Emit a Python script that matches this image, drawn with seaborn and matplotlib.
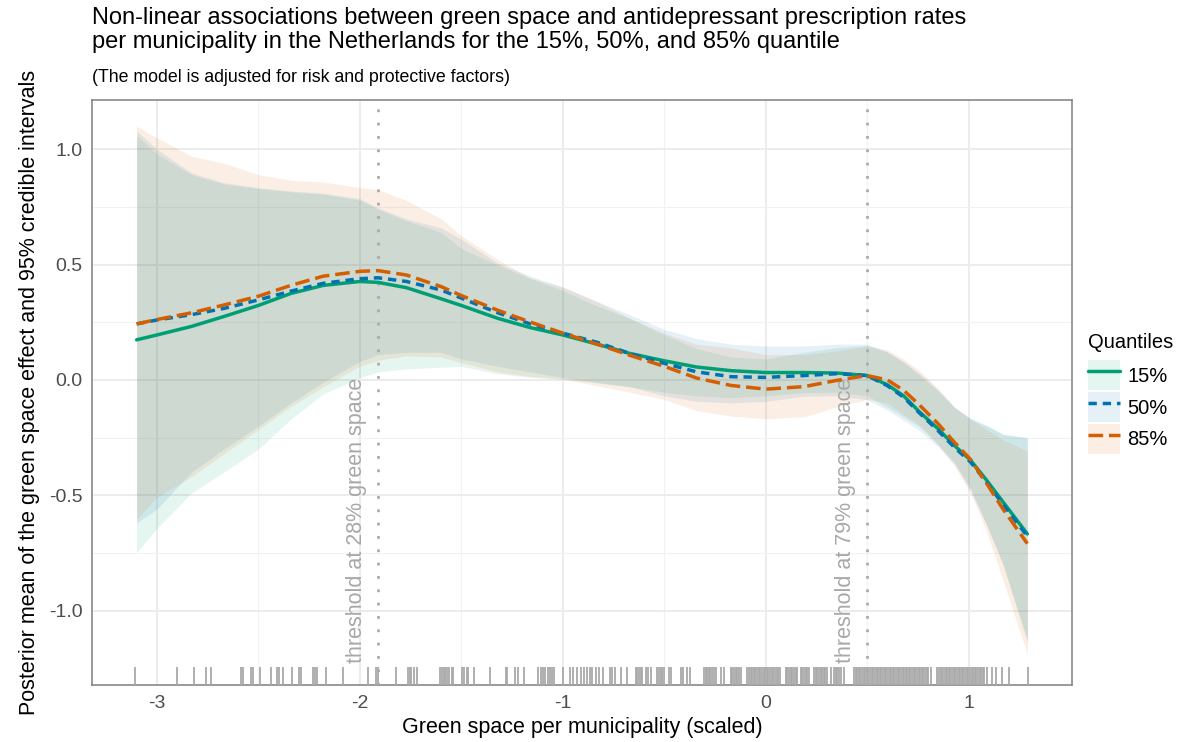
import matplotlib
matplotlib.use("Agg")
import matplotlib.pyplot as plt
from matplotlib.patches import Patch
from matplotlib.lines import Line2D
from matplotlib.legend_handler import HandlerTuple
import seaborn as sns
import pandas as pd

# ---------------------------------------------------
# Data
# ---------------------------------------------------
green_space = [-3.10, -3.00, -2.83, -2.67, -2.50, -2.34, -2.18, -2.00, -1.91, -1.77,
               -1.60, -1.50, -1.32, -1.16, -1.00, -0.83, -0.67, -0.50, -0.34, -0.17,
               0.00, 0.19, 0.35, 0.50, 0.60, 0.68, 0.76, 0.85, 0.93, 1.01,
               1.09, 1.17, 1.29]

q15_mean = [0.174, 0.195, 0.232, 0.275, 0.323, 0.375, 0.410, 0.427, 0.423, 0.400,
            0.352, 0.323, 0.267, 0.227, 0.195, 0.155, 0.115, 0.083, 0.056, 0.040,
            0.032, 0.032, 0.030, 0.019, -0.021, -0.069, -0.140, -0.212, -0.284, -0.348,
            -0.436, -0.529, -0.668]
q15_lower = [-0.748, -0.644, -0.490, -0.400, -0.300, -0.170, -0.060, 0.010, 0.035, 0.048,
             0.055, 0.059, 0.027, 0.012, 0.003, -0.013, -0.030, -0.053, -0.069, -0.077,
             -0.069, -0.055, -0.053, -0.069, -0.117, -0.160, -0.204, -0.280, -0.356, -0.470,
             -0.630, -0.800, -1.140]
q15_upper = [1.060, 0.980, 0.890, 0.850, 0.830, 0.815, 0.805, 0.780, 0.740, 0.690,
             0.640, 0.570, 0.498, 0.440, 0.387, 0.320, 0.267, 0.195, 0.136, 0.099,
             0.091, 0.120, 0.140, 0.150, 0.120, 0.075, 0.020, -0.050, -0.120, -0.170,
             -0.200, -0.235, -0.250]

q50_mean = [0.243, 0.260, 0.283, 0.310, 0.347, 0.385, 0.419, 0.439, 0.443, 0.427,
            0.390, 0.355, 0.291, 0.243, 0.203, 0.163, 0.115, 0.072, 0.035, 0.014,
            0.011, 0.019, 0.027, 0.019, -0.025, -0.075, -0.145, -0.220, -0.292, -0.356,
            -0.445, -0.540, -0.678]
q50_lower = [-0.620, -0.560, -0.400, -0.300, -0.200, -0.100, -0.010, 0.080, 0.110, 0.120,
             0.120, 0.091, 0.059, 0.035, 0.011, -0.010, -0.029, -0.069, -0.093, -0.100,
             -0.093, -0.070, -0.069, -0.085, -0.130, -0.175, -0.220, -0.290, -0.364, -0.480,
             -0.630, -0.800, -1.125]
q50_upper = [1.080, 1.000, 0.898, 0.855, 0.834, 0.820, 0.810, 0.786, 0.746, 0.698,
             0.660, 0.610, 0.506, 0.450, 0.403, 0.340, 0.283, 0.219, 0.179, 0.155,
             0.147, 0.147, 0.155, 0.155, 0.123, 0.080, 0.027, -0.040, -0.117, -0.165,
             -0.196, -0.236, -0.252]

q85_mean = [0.243, 0.262, 0.291, 0.325, 0.363, 0.410, 0.450, 0.471, 0.474, 0.455,
            0.405, 0.366, 0.302, 0.251, 0.203, 0.155, 0.107, 0.059, 0.008, -0.024,
            -0.040, -0.029, -0.002, 0.019, 0.000, -0.045, -0.110, -0.190, -0.270, -0.345,
            -0.450, -0.560, -0.710]
q85_lower = [-0.604, -0.508, -0.420, -0.320, -0.215, -0.115, -0.030, 0.060, 0.085, 0.105,
             0.100, 0.075, 0.035, 0.015, 0.003, -0.025, -0.053, -0.085, -0.133, -0.157,
             -0.168, -0.160, -0.117, -0.085, -0.100, -0.150, -0.196, -0.280, -0.372, -0.490,
             -0.660, -0.870, -1.190]
q85_upper = [1.100, 1.050, 0.970, 0.940, 0.890, 0.866, 0.858, 0.834, 0.826, 0.778,
             0.700, 0.626, 0.522, 0.442, 0.403, 0.339, 0.267, 0.203, 0.155, 0.139,
             0.110, 0.110, 0.125, 0.147, 0.130, 0.090, 0.040, -0.040, -0.117, -0.170,
             -0.215, -0.260, -0.308]

quantiles = ["15%", "50%", "85%"]

# observed municipalities (rug)
rug_values = [
    -3.106, -2.900, -2.819, -2.758, -2.732, -2.585, -2.575, -2.536, -2.528, -2.494,
    -2.436, -2.408, -2.400, -2.380, -2.334, -2.301, -2.289, -2.230, -2.222, -2.211,
    -2.168, -2.082, -1.961, -1.918, -1.912, -1.821, -1.764, -1.755, -1.747, -1.734,
    -1.717, -1.603, -1.594, -1.586, -1.578, -1.570, -1.562, -1.548, -1.540, -1.496,
    -1.488, -1.474, -1.466, -1.438, -1.356, -1.282, -1.274, -1.233, -1.219, -1.192,
    -1.121, -1.109, -1.096, -1.085, -1.075, -1.065, -1.055, -1.045, -0.998, -0.966,
    -0.948, -0.928, -0.912, -0.896, -0.879, -0.867, -0.855, -0.838, -0.822, -0.800,
    -0.768, -0.756, -0.740, -0.715, -0.682, -0.641, -0.632, -0.624, -0.616, -0.608,
    -0.592, -0.580, -0.567, -0.534, -0.526, -0.518, -0.509, -0.501, -0.477, -0.465,
    -0.419, -0.406, -0.386, -0.373, -0.304, -0.296, -0.288, -0.280, -0.272, -0.264,
    -0.256, -0.247, -0.222, -0.206, -0.173, -0.165, -0.156, -0.148, -0.140, -0.131,
    -0.123, -0.090, -0.082, -0.074, -0.066, -0.058, -0.050, -0.042, -0.034, -0.026,
    -0.018, -0.010, -0.002, 0.006, 0.014, 0.022, 0.030, 0.038, 0.046, 0.054,
    0.062, 0.070, 0.099, 0.107, 0.115, 0.123, 0.131, 0.140, 0.148, 0.156,
    0.173, 0.181, 0.189, 0.198, 0.206, 0.214, 0.238, 0.246, 0.254, 0.262,
    0.271, 0.279, 0.287, 0.295, 0.304, 0.321, 0.337, 0.345, 0.354, 0.362,
    0.370, 0.385, 0.435, 0.443, 0.451, 0.459, 0.467, 0.475, 0.483, 0.491,
    0.499, 0.507, 0.515, 0.523, 0.531, 0.539, 0.547, 0.555, 0.563, 0.571,
    0.579, 0.587, 0.595, 0.603, 0.611, 0.619, 0.627, 0.635, 0.643, 0.651,
    0.659, 0.667, 0.675, 0.682, 0.690, 0.698, 0.706, 0.714, 0.722, 0.730,
    0.738, 0.746, 0.754, 0.762, 0.770, 0.778, 0.786, 0.794, 0.802, 0.814,
    0.847, 0.855, 0.863, 0.871, 0.879, 0.887, 0.895, 0.903, 0.911, 0.919,
    0.927, 0.935, 0.943, 0.951, 0.959, 0.967, 0.975, 0.983, 0.991, 0.999,
    1.007, 1.015, 1.023, 1.031, 1.039, 1.047, 1.055, 1.063, 1.071, 1.076,
    1.093, 1.118, 1.134, 1.167, 1.200, 1.295,
]

thresholds = [-1.91, 0.50]
threshold_labels = ["threshold at 28% green space", "threshold at 79% green space"]

# ---------------------------------------------------
# Style
# ---------------------------------------------------
sns.set_theme(style="white")
plt.rcParams["font.family"] = ["Liberation Sans", "DejaVu Sans"]
plt.rcParams["text.color"] = "black"
plt.rcParams["axes.labelcolor"] = "black"

colors = {"15%": "#009E73", "50%": "#0072B2", "85%": "#D55E00"}
dashes = {"15%": "", "50%": (2.4, 1.7), "85%": (4.2, 1.7)}
line_w = 2.5

long_df = pd.concat([
    pd.DataFrame({"x": green_space, "y": m, "Quantiles": q})
    for q, m in zip(quantiles, [q15_mean, q50_mean, q85_mean])
])

fig = plt.figure(figsize=(12.03, 7.42), dpi=100)
ax = fig.add_axes([92 / 1203, 1 - 685 / 742, (1072 - 92) / 1203, 585 / 742])

# ribbons
bands = [(q15_lower, q15_upper), (q50_lower, q50_upper), (q85_lower, q85_upper)]
for q, (lo, hi) in zip(quantiles, bands):
    ax.fill_between(green_space, lo, hi, color=colors[q], alpha=0.1,
                    linewidth=0, zorder=2)

# threshold lines + labels
for t, lab in zip(thresholds, threshold_labels):
    ax.axvline(t, color="#ababab", linewidth=2.0, linestyle=(0, (1, 3.8)), zorder=3)
    ax.text(t - 0.105, -0.607, lab, rotation=90, ha="center", va="center",
            color="#a8a8a8", fontsize=15.5, zorder=3)

# posterior means
sns.lineplot(data=long_df, x="x", y="y", hue="Quantiles", style="Quantiles",
             palette=colors, dashes=dashes, estimator=None, sort=False,
             linewidth=line_w, legend=False, ax=ax, zorder=4)

# rug of observed municipalities
sns.rugplot(x=rug_values, height=0.03, color="#a9a9a9", linewidth=1.3, ax=ax,
            zorder=3)

# axes
ax.set_xlim(-3.32, 1.51)
ax.set_ylim(-1.323, 1.214)
ax.set_xticks([-3, -2, -1, 0, 1])
ax.set_xticklabels(["-3", "-2", "-1", "0", "1"])
ax.set_xticks([-2.5, -1.5, -0.5, 0.5], minor=True)
ax.set_yticks([-1.0, -0.5, 0.0, 0.5, 1.0])
ax.set_yticklabels(["-1.0", "-0.5", "0.0", "0.5", "1.0"])
ax.set_yticks([-0.75, -0.25, 0.25, 0.75], minor=True)
ax.grid(which="major", color="#ebebeb", linewidth=1.3, zorder=0)
ax.grid(which="minor", color="#f2f2f2", linewidth=0.8, zorder=0)
ax.set_axisbelow(True)
ax.tick_params(which="major", direction="out", length=4, width=1,
               color="#333333", labelsize=14, labelcolor="#4d4d4d", pad=3)
ax.tick_params(which="minor", length=0)
for s in ax.spines.values():
    s.set_color("#7f7f7f")
    s.set_linewidth(1.1)

ax.set_xlabel("Green space per municipality (scaled)", fontsize=15.5, labelpad=4)
ax.set_ylabel("Posterior mean of the green space effect and 95% credible intervals",
              fontsize=15.5, labelpad=6)

# titles
fig.text(92 / 1203, 1 - 7 / 742,
         "Non-linear associations between green space and antidepressant prescription rates\n"
         "per municipality in the Netherlands for the 15%, 50%, and 85% quantile",
         ha="left", va="top", fontsize=17, linespacing=1.12)
fig.text(92 / 1203, 1 - 77 / 742,
         "(The model is adjusted for risk and protective factors)",
         ha="left", va="center", fontsize=12.8)

# legend
handles = [
    (Patch(facecolor=colors[q], alpha=0.1, edgecolor="none"),
     Line2D([], [], color=colors[q], linewidth=line_w,
            linestyle="-" if q == "15%" else (0, dashes[q])))
    for q in quantiles
]
leg = fig.legend(handles, quantiles, title="Quantiles",
                 handler_map={tuple: HandlerTuple(ndivide=1, pad=0)},
                 loc="upper left", bbox_to_anchor=(1088 / 1203, 1 - 333 / 742),
                 frameon=False, fontsize=14.5, title_fontsize=14.5,
                 handlelength=1.6, handleheight=1.9, labelspacing=0.1,
                 handletextpad=0.35, borderpad=0, borderaxespad=0,
                 alignment="left")
leg._legend_box.sep = 6

fig.savefig("out.png", dpi=100)
plt.close(fig)
